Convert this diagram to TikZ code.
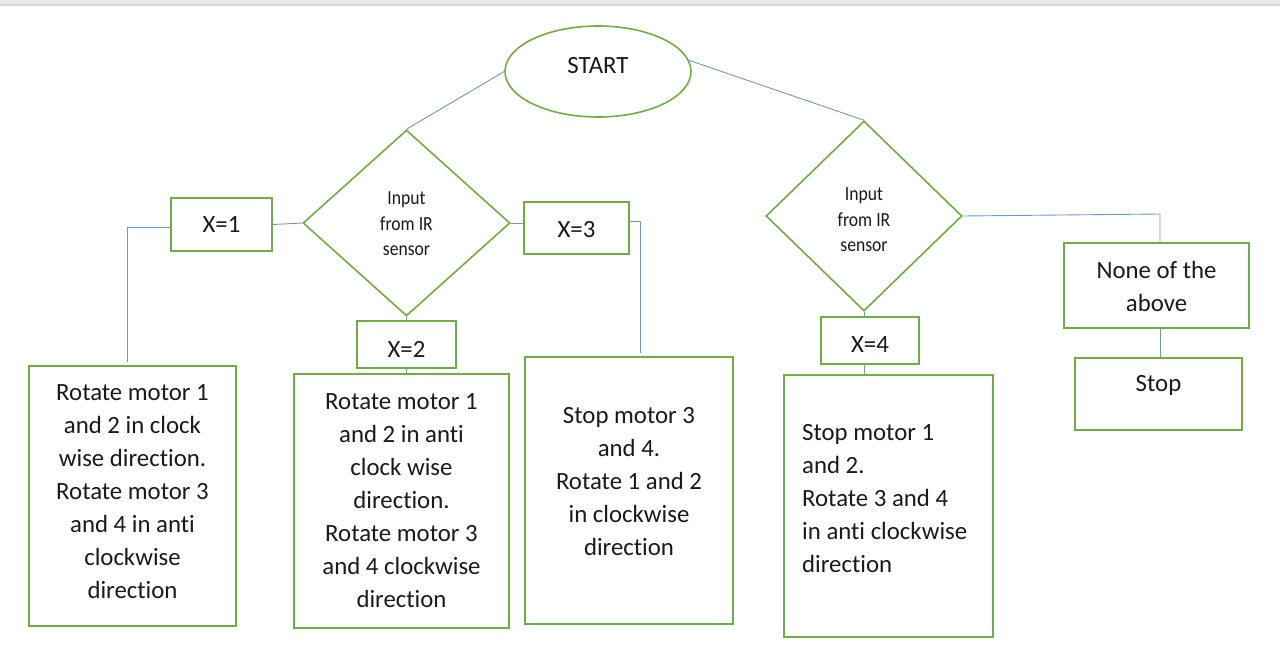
\documentclass[tikz,border=0pt]{standalone}
\usepackage{fontspec}
\setmainfont{Carlito}[Ligatures={NoCommon}]
\newfontfamily\narrowfont{Carlito}[FakeStretch=0.88,Ligatures={NoCommon}]
\usetikzlibrary{shapes.geometric}
\definecolor{boxgreen}{HTML}{70AD47}
\definecolor{linkblue}{HTML}{7494CF}
\definecolor{txt}{HTML}{1A1A1A}
\definecolor{barlight}{HTML}{E9E9E9}
\definecolor{bardark}{HTML}{D7D7D7}
\begin{document}
\begin{tikzpicture}[x=1pt,y=-1pt,
  box/.style={draw=boxgreen,line width=1.6pt,inner sep=0pt,fill=white},
  link/.style={draw=linkblue,line width=0.9pt},
  lbl/.style={text=txt,font=\fontsize{24.8}{33}\selectfont,align=center,inner sep=0pt},
  dlbl/.style={text=txt,font=\narrowfont\fontsize{20}{25.5}\selectfont,align=center,inner sep=0pt}]
\useasboundingbox (0,0) rectangle (1280,669);
\fill[white] (0,0) rectangle (1280,669);
\fill[barlight] (0,0) rectangle (1280,4);
\fill[bardark] (0,4) rectangle (1280,6.5);

% shapes
\node[box,ellipse,minimum width=186pt,minimum height=91pt] (start) at (598,71.5) {};
\node[box,diamond,minimum width=207pt,minimum height=186pt] (d1) at (406.5,223) {};
\node[box,diamond,minimum width=196pt,minimum height=190pt] (d2) at (864,216) {};
\node[box,minimum width=101pt,minimum height=53pt] (x1) at (221.5,224.5) {};
\node[box,minimum width=99pt,minimum height=47pt] (x2) at (406.5,344.5) {};
\node[box,minimum width=105pt,minimum height=52pt] (x3) at (576.5,228) {};
\node[box,minimum width=98pt,minimum height=47pt] (x4) at (870,340.5) {};
\node[box,minimum width=207pt,minimum height=260pt] (b1) at (132.5,496) {};
\node[box,minimum width=215pt,minimum height=254pt] (b2) at (401.5,501) {};
\node[box,minimum width=208pt,minimum height=267pt] (b3) at (629,490.5) {};
\node[box,minimum width=209pt,minimum height=262pt] (b4) at (888.5,506) {};
\node[box,minimum width=185pt,minimum height=85pt] (none) at (1156.5,285.5) {};
\node[box,minimum width=167pt,minimum height=72pt] (stop) at (1158.5,394) {};

% coordinates for bends
\coordinate (c1) at (127,227);
\coordinate (c1e) at (127,362);
\coordinate (c3) at (640,221);
\coordinate (c3e) at (640,353);
\coordinate (c5) at (1160,214);

% connectors
\draw[link] (start.west) -- (d1.north);
\draw[link] (start.7) -- (d2.north);
\draw[link] (d1.west) -- (x1.east);
\draw[link] (x1.west |- c1) -- (c1) -- (c1e);
\draw[link] (d1.east) -- (x3.west |- d1.east);
\draw[link] (x3.east |- c3) -- (c3) -- (c3e);
\draw[link] (d1.south) -- (x2.north);
\draw[link] (x2.south) -- (x2.south |- b2.north);
\draw[link] (d2.south) -- (d2.south |- x4.north);
\draw[link] (d2.south |- x4.south) -- (d2.south |- b4.north);
\draw[link] (d2.east) -- (c5) -- (c5 |- none.north);
\draw[link] (c5 |- none.south) -- (c5 |- stop.north);

% texts
\node[lbl] (tstart) at (598,66) {START};
\node[dlbl] (td1) at (406.5,224) {Input\\from IR\\sensor};
\node[dlbl] (td2) at (864,220) {Input\\from IR\\sensor};
\node[lbl] (tx1) at (221.5,225) {X=1};
\node[lbl] (tx2) at (406.5,349) {X=2};
\node[lbl] (tx3) at (576.5,230) {X=3};
\node[lbl] (tx4) at (870,345) {X=4};
\node[lbl] (tb1) at (132.5,492) {Rotate motor 1\\and 2 in clock\\wise direction.\\Rotate motor 3\\and 4 in anti\\clockwise\\direction};
\node[lbl] (tb2) at (401.5,500.5) {Rotate motor 1\\and 2 in anti\\clock wise\\direction.\\Rotate motor 3\\and 4 clockwise\\direction};
\node[lbl] (tb3) at (629,482) {Stop motor 3\\and 4.\\Rotate 1 and 2\\in clockwise\\direction};
\node[lbl,align=left,anchor=west] (tb4) at (802,498.5) {Stop motor 1\\and 2.\\Rotate 3 and 4\\in anti clockwise\\direction};
\node[lbl] (tnone) at (1156.5,286.5) {None of the\\above};
\node[lbl] (tstop) at (1158.5,385) {Stop};
\end{tikzpicture}
\end{document}
